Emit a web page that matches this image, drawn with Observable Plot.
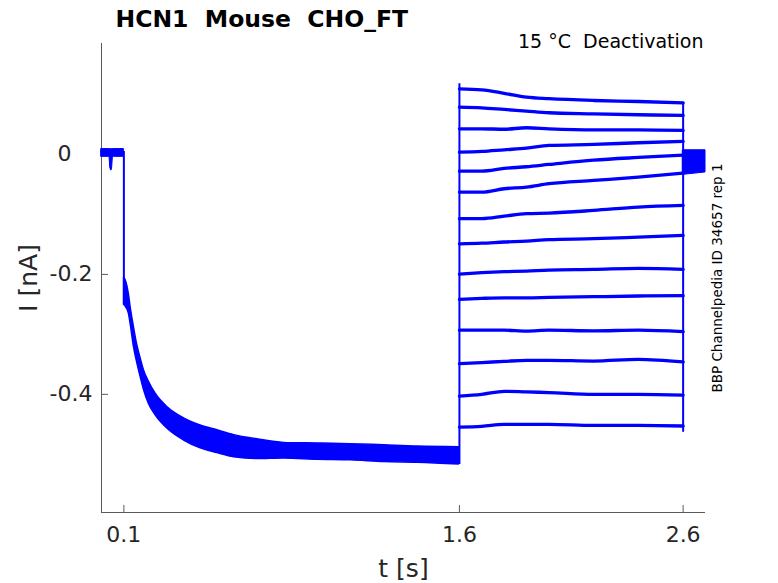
<!DOCTYPE html>
<html><head><meta charset="utf-8">
<script src="https://cdn.jsdelivr.net/npm/d3@7"></script>
<script src="https://cdn.jsdelivr.net/npm/@observablehq/plot@0.6"></script>
<style>html,body{margin:0;padding:0;background:#fff;}</style>
</head><body><div id="chart"></div>
<script>
// ---- axes ----
const xDomain = [0, 2.7];
const yDomain = [-0.597, 0.185];
const xTicks = [0.1, 1.6, 2.6];
const yTicks = [0, -0.2, -0.4];

// ---- holding segment before the first step (band of overlapping sweeps) ----
const preT  = [0, 0.036, 0.039, 0.043, 0.047, 0.051, 0.1];
const preHi = [0.009, 0.009, 0.009, 0.009, 0.009, 0.009, 0.009];
const preLo = [-0.004, -0.004, -0.022, -0.027, -0.025, -0.004, -0.004];

// ---- activation (all sweeps overlap): envelope ----
const actT  = [0.101, 0.11, 0.122, 0.13, 0.145, 0.16, 0.175, 0.19, 0.212, 0.242, 0.294, 0.369, 0.443, 0.518, 0.593, 0.697, 0.816, 0.966, 1.115, 1.264, 1.414, 1.598];
const actHi = [-0.205, -0.212, -0.232, -0.254, -0.288, -0.318, -0.340, -0.360, -0.379, -0.399, -0.421, -0.440, -0.452, -0.460, -0.468, -0.475, -0.481, -0.482, -0.483, -0.485, -0.487, -0.488];
const actLo = [-0.250, -0.255, -0.265, -0.282, -0.321, -0.348, -0.371, -0.393, -0.416, -0.435, -0.457, -0.477, -0.490, -0.498, -0.505, -0.508, -0.507, -0.509, -0.510, -0.513, -0.514, -0.517];

// ---- deactivation tails, one row per sweep ----
const tailT = [1.6, 1.7, 1.8, 1.9, 2.0, 2.2, 2.4, 2.6];
const tailI = [
  [0.1095, 0.1078, 0.102, 0.0955, 0.093, 0.090, 0.0883, 0.086],
  [0.0789, 0.0778, 0.075, 0.0722, 0.0695, 0.0678, 0.0662, 0.065],
  [0.0428, 0.0428, 0.042, 0.0445, 0.0428, 0.041, 0.041, 0.040],
  [0.0038, 0.005, 0.0078, 0.0105, 0.015, 0.0167, 0.0195, 0.0217],
  [-0.0278, -0.0278, -0.0233, -0.0205, -0.0167, -0.0095, -0.005, -0.0012],
  [-0.0628, -0.0628, -0.0572, -0.0545, -0.0488, -0.0433, -0.0378, -0.0312],
  [-0.107, -0.107, -0.1028, -0.0988, -0.0978, -0.0933, -0.0878, -0.085],
  [-0.149, -0.148, -0.146, -0.1445, -0.142, -0.1405, -0.1378, -0.135],
  [-0.1995, -0.1972, -0.1955, -0.1945, -0.1928, -0.1917, -0.190, -0.1917],
  [-0.2417, -0.240, -0.239, -0.239, -0.2383, -0.2372, -0.236, -0.2355],
  [-0.293, -0.293, -0.293, -0.2945, -0.293, -0.294, -0.293, -0.2955],
  [-0.3488, -0.347, -0.345, -0.3433, -0.3433, -0.3445, -0.3417, -0.346],
  [-0.4028, -0.400, -0.3950, -0.396, -0.397, -0.400, -0.400, -0.4012],
  [-0.4545, -0.4533, -0.450, -0.450, -0.450, -0.4517, -0.4517, -0.4528]
];

// ---- return to holding after 2.6 s (band of overlapping sweeps) ----
const postT  = [2.6, 2.7];
const postHi = [0.007, 0.007];
const postLo = [-0.034, -0.030];

// ---- voltage-step edges ----
const stepT  = [0.1, 1.6, 2.6];
const stepHi = [0.005, 0.118, 0.087];
const stepLo = [-0.252, -0.517, -0.463];

const blue = "#0000ff";
const band = (T, H, L) => T.map((t, k) => ({t, hi: H[k], lo: L[k]}));
const tails = tailI.flatMap((vals, s) => vals.map((v, k) => ({sweep: s, t: tailT[k], i: v})));
const steps = stepT.map((t, k) => ({t, hi: stepHi[k], lo: stepLo[k]}));

const chart = Plot.plot({
  width: 778, height: 583,
  marginLeft: 101, marginRight: 73, marginTop: 43, marginBottom: 71,
  style: {fontFamily: "DejaVu Sans", color: "#262626", background: "#fff"},
  x: {domain: xDomain, label: null},
  y: {domain: yDomain, label: null},
  marks: [
    Plot.ruleX([xDomain[0]], {stroke: "#5a5a5a", strokeWidth: 1}),
    Plot.ruleY([yDomain[0]], {stroke: "#5a5a5a", strokeWidth: 1}),
    Plot.axisX({ticks: xTicks, tickSize: -7, text: null, label: null, stroke: "#5a5a5a"}),
    Plot.axisX({ticks: xTicks, tickSize: 0, tickPadding: 14, label: null, fontSize: 22, fill: "#262626", tickFormat: d => String(d)}),
    Plot.axisY({ticks: yTicks, tickSize: -7, text: null, label: null, stroke: "#5a5a5a"}),
    Plot.axisY({ticks: yTicks, tickSize: 0, tickPadding: 9, label: null, fontSize: 22, fill: "#262626",
      tickFormat: d => d === 0 ? "0\u2008\u2007" : d.toFixed(1)}),
    Plot.areaY(band(preT, preHi, preLo), {x: "t", y1: "lo", y2: "hi", fill: blue, stroke: blue, strokeWidth: 1}),
    Plot.areaY(band(actT, actHi, actLo), {x: "t", y1: "lo", y2: "hi", fill: blue, stroke: blue, strokeWidth: 1.5, curve: "monotone-x"}),
    Plot.areaY(band(postT, postHi, postLo), {x: "t", y1: "lo", y2: "hi", fill: blue, stroke: blue, strokeWidth: 1}),
    Plot.ruleX(steps, {x: "t", y1: "lo", y2: "hi", stroke: blue, strokeWidth: 2}),
    Plot.line(tails, {x: "t", y: "i", z: "sweep", stroke: blue, strokeWidth: 3.3, curve: "monotone-x"}),
    // labels
    Plot.text(["t [s]"], {frameAnchor: "bottom", lineAnchor: "bottom", dy: 64, fontSize: 25, fill: "#262626"}),
    Plot.text(["I [nA]"], {frameAnchor: "left", textAnchor: "middle", lineAnchor: "bottom", rotate: -90, dx: -65, fontSize: 25, fill: "#262626"}),
    Plot.text(["HCN1  Mouse  CHO_FT"], {frameAnchor: "top-left", textAnchor: "start", lineAnchor: "bottom", dx: 14, dy: -17, fontSize: 23.5, fontWeight: "bold", fill: "#000"}),
    Plot.text(["15 °C  Deactivation"], {frameAnchor: "top-right", textAnchor: "end", lineAnchor: "bottom", dx: -2, dy: 4, fontSize: 19, fill: "#000"}),
    Plot.text(["BBP Channelpedia ID 34657 rep 1"], {frameAnchor: "right", textAnchor: "middle", lineAnchor: "bottom", rotate: -90, dx: 16, fontSize: 13.5, fill: "#000"})
  ]
});
document.getElementById("chart").appendChild(chart);
</script>
</body></html>
